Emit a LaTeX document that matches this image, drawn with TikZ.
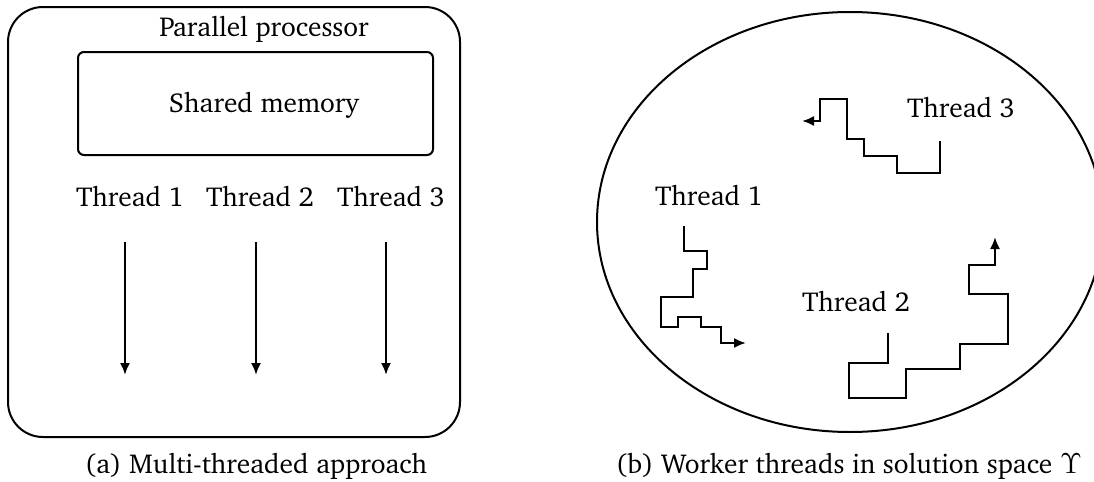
\documentclass[tikz,border=0pt]{standalone}
\usepackage[T1]{fontenc}
\usepackage{charter}
\usepackage{tikz}
\usetikzlibrary{positioning,arrows.meta,shapes.geometric}

\tikzset{
  boxframe/.style={draw,line width=1pt,inner sep=0pt},
  flow/.style={line width=1pt,-{Latex[length=6pt,width=5pt]}},
  walk/.style={line width=1pt,-{Latex[length=6pt,width=5pt]}}
}

\begin{document}
\begin{tikzpicture}[x=0.5pt,y=-0.5pt,every node/.style={font=\fontsize{13.7}{16}\selectfont}]
  \useasboundingbox (0,0) rectangle (1094,482);
  % (a) processor with shared memory
  \node[boxframe,rounded corners=17.5pt,minimum width=226pt,minimum height=215pt] (proc) at (234,222) {};
  \node (proclbl) at (264,29) {Parallel processor};
  \node[boxframe,rounded corners=3pt,minimum width=177.5pt,minimum height=51.5pt] (mem) at (255.5,103.5) {};
  \node (memlbl) at (264,105) {Shared memory};
  % threads running downwards
  \foreach \i/\x in {1/130,2/260,3/391} \node (t\i) at (\x,197) {Thread \i};
  \foreach \i/\x in {1/125,2/256,3/386} {
    \coordinate (s\i) at (\x,242);
    \coordinate (e\i) at (\x,375);
    \draw[flow] (s\i) -- (e\i);
  }
  \node (capa) at (256,466) {(a) Multi-threaded approach};
  % (b) solution space
  \node[boxframe,ellipse,minimum width=253pt,minimum height=210pt] (space) at (850,222) {};
  \node (w1lbl) at (709,196) {Thread 1};
  \node (w2lbl) at (856,302) {Thread 2};
  \node (w3lbl) at (961,108) {Thread 3};
  \coordinate (w1) at (684,226);
  \coordinate (w2) at (888,333);
  \coordinate (w3) at (940,141);
  % random walks of the workers
  \draw[walk] (w1) -- (684,251) -- (707,251) -- (707,269) -- (693,269) -- (693,297) -- (661,297)
    -- (661,327) -- (678,327) -- (678,317) -- (701,317) -- (701,327) -- (721,327) -- (721,343) -- (746,343);
  \draw[walk] (w2) -- (888,363) -- (849,363) -- (849,398) -- (906,398) -- (906,369) -- (960,369)
    -- (960,344) -- (1008,344) -- (1008,294) -- (969,294) -- (969,265) -- (995,265) -- (995,237);
  \draw[walk] (w3) -- (940,173) -- (897,173) -- (897,156) -- (864,156) -- (864,139) -- (847,139)
    -- (847,99) -- (820,99) -- (820,121) -- (802,121);
  \node (capb) at (849,466) {(b) Worker threads in solution space $\Upsilon$};
\end{tikzpicture}
\end{document}
